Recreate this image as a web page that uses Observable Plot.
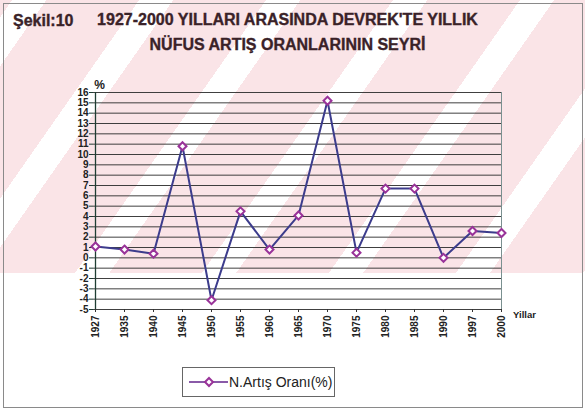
<!DOCTYPE html>
<html>
<head>
<meta charset="utf-8">
<script src="https://cdn.jsdelivr.net/npm/d3@7"></script>
<script src="https://cdn.jsdelivr.net/npm/@observablehq/plot@0.6"></script>
<style>
  html, body { margin: 0; padding: 0; background: #fff; }
  #fig { position: relative; width: 585px; height: 411px; overflow: hidden; background: #fff;
         font-family: "Liberation Sans", Arial, sans-serif; }
  #wm { position: absolute; left: 0; top: 0; width: 585px; height: 273px;
        background: repeating-linear-gradient(125deg, #fae4e7 0 10px, #ffffff 10px 38px, #fae4e7 38px 104px); }
  #border { position: absolute; left: 3px; top: 3px; right: 2px; bottom: 3px; border: 1px solid #8a8a8a; }
  .t { position: absolute; font-weight: bold; color: #3a2228; white-space: nowrap; -webkit-text-stroke: 0.35px #3a2228; }
  #chart { position: absolute; left: 0; top: 70px; }
  #legend { position: absolute; left: 182px; top: 367px; width: 153px; height: 30px; box-sizing: border-box;
            border: 1px solid #666; background: #fff; display: flex; align-items: center; }
</style>
</head>
<body>
<div id="fig">
  <div id="wm"></div>
  <div id="border"></div>
  <div class="t" style="left:13px; top:12px; font-size:16px;">Şekil:10</div>
  <div class="t" style="left:0; width:575px; text-align:center; top:11px; font-size:16px;">1927-2000 YILLARI ARASINDA DEVREK'TE YILLIK</div>
  <div class="t" style="left:0; width:575px; text-align:center; top:36px; font-size:16px;">NÜFUS ARTIŞ ORANLARININ SEYRİ</div>
  <div id="chart"></div>
  <div id="legend"></div>
</div>
<script>
const years = ["1927","1935","1940","1945","1950","1955","1960","1965","1970","1975","1980","1985","1990","1997","2000"];
const rates = [1.1, 0.8, 0.4, 10.8, -4.1, 4.5, 0.8, 4.1, 15.2, 0.5, 6.7, 6.7, 0.0, 2.6, 2.4];
const yTicks = [-5,-4,-3,-2,-1,0,1,2,3,4,5,6,7,8,9,10,11,12,13,14,15,16];
const seriesName = "N.Artış Oranı(%)";
const yLabel = "%";
const xLabel = "Yillar";

const data = years.map((y, i) => ({year: y, rate: rates[i]}));

const lineColor = "#3c3c8c";
const markColor = "#993399";

const chart = Plot.plot({
  width: 585,
  height: 275,
  marginTop: 22,
  marginBottom: 36,
  marginLeft: 93,
  marginRight: 83,
  style: {background: "transparent", fontFamily: "'Liberation Sans', Arial, sans-serif", color: "#222", overflow: "visible"},
  x: {type: "point", domain: years, padding: 0},
  y: {domain: [-5, 16]},
  marks: [
    Plot.gridY(yTicks, {stroke: "#2a2a2a", strokeOpacity: 1, strokeWidth: 0.9}),
    Plot.ruleX([years[0]], {stroke: "#1f3d33", strokeWidth: 1.3}),
    Plot.ruleX([years[years.length - 1]], {stroke: "#7a9090", strokeWidth: 1}),
    Plot.axisY(yTicks, {tickSize: 4, tickPadding: 1, fontSize: 10, fontWeight: "bold", stroke: "#1f3d33", label: null, tickFormat: d => String(d)}),
    Plot.axisX(years, {tickSize: 3, tickPadding: 3, tickRotate: -90, fontSize: 10, fontWeight: "bold", stroke: "#333", label: null}),
    Plot.text([yLabel], {frameAnchor: "top-left", dx: 6, dy: -12, fontSize: 12, fontWeight: "bold", fill: "#222", textAnchor: "middle"}),
    Plot.text([xLabel], {frameAnchor: "bottom-right", dx: 22, dy: 8, fontSize: 9.5, fontWeight: "bold", fill: "#222", textAnchor: "middle"}),
    Plot.line(data, {x: "year", y: "rate", stroke: lineColor, strokeWidth: 2}),
    Plot.dot(data, {x: "year", y: "rate", symbol: "diamond2", r: 3.6, fill: "white", stroke: markColor, strokeWidth: 2})
  ]
});
document.getElementById("chart").appendChild(chart);

// legend
const leg = d3.select("#legend");
const ls = leg.append("svg").attr("width", 46).attr("height", 28);
ls.append("line").attr("x1", 6).attr("x2", 45).attr("y1", 14).attr("y2", 14).attr("stroke", "#8a5aa8").attr("stroke-width", 2);
const sym = d3.symbol(d3.symbolDiamond2, Math.PI * 3.6 * 3.6);
ls.append("path").attr("d", sym()).attr("transform", "translate(26,14)").attr("fill", "white").attr("stroke", markColor).attr("stroke-width", 2);
leg.append("span").text(seriesName).style("font-size", "14px").style("color", "#222").style("margin-left", "0px");
</script>
</body>
</html>
